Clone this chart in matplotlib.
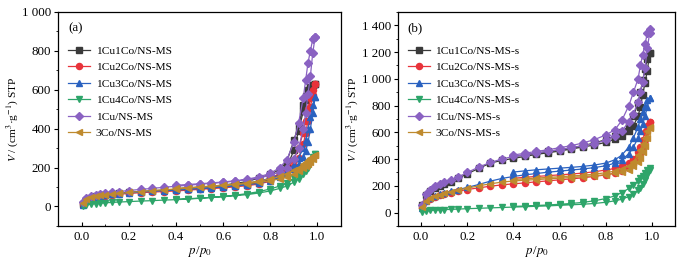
import matplotlib
matplotlib.use("Agg")
import matplotlib.pyplot as plt
from matplotlib.ticker import MultipleLocator

plt.rcParams['font.family'] = ['Liberation Serif', 'DejaVu Serif']
plt.rcParams['mathtext.fontset'] = 'stix'

# Relative pressures (adsorption then desorption)
P_ADS = [0.005, 0.02, 0.04, 0.06, 0.08, 0.10, 0.13, 0.16, 0.20, 0.25, 0.30, 0.35, 0.40, 0.45,
         0.50, 0.55, 0.60, 0.65, 0.70, 0.75, 0.80, 0.84, 0.87, 0.90, 0.92, 0.94, 0.95, 0.96,
         0.97, 0.98, 0.99]
P_DES = [0.99, 0.98, 0.97, 0.96, 0.95, 0.94, 0.92, 0.90, 0.87, 0.84, 0.80, 0.75, 0.70, 0.65,
         0.60, 0.55, 0.50, 0.45, 0.40]

labels_a = ["1Cu1Co/NS-MS", "1Cu2Co/NS-MS", "1Cu3Co/NS-MS", "1Cu4Co/NS-MS", "1Cu/NS-MS", "3Co/NS-MS"]
labels_b = ["1Cu1Co/NS-MS-s", "1Cu2Co/NS-MS-s", "1Cu3Co/NS-MS-s", "1Cu4Co/NS-MS-s", "1Cu/NS-MS-s", "3Co/NS-MS-s"]

# Panel (a) adsorbed volume
a_1cu1co_ads = [15, 35, 45, 52, 57, 61, 65, 69, 73, 77, 81, 84, 87, 90, 94, 98, 102, 107, 113, 122, 140, 170, 200, 290, 390, 490, 545, 585, 610, 622, 630]
a_1cu1co_des = [630, 624, 615, 600, 570, 520, 420, 340, 230, 190, 165, 145, 128, 118, 110, 104, 99, 95, 91]
a_1cu2co_ads = [12, 30, 40, 47, 52, 56, 60, 63, 67, 71, 74, 77, 80, 84, 88, 92, 96, 101, 107, 115, 130, 150, 175, 210, 250, 320, 380, 440, 510, 575, 628]
a_1cu2co_des = [628, 600, 560, 500, 440, 380, 300, 240, 190, 165, 145, 128, 116, 108, 101, 96, 92, 88, 85]
a_1cu3co_ads = [10, 32, 42, 49, 54, 58, 62, 66, 70, 74, 78, 81, 84, 88, 92, 96, 100, 105, 111, 119, 133, 150, 170, 195, 220, 255, 285, 330, 400, 480, 565]
a_1cu3co_des = [565, 520, 460, 400, 340, 300, 250, 215, 180, 160, 145, 130, 118, 110, 104, 99, 95, 91, 88]
a_1cu4co_ads = [3, 8, 12, 15, 17, 19, 21, 23, 25, 28, 30, 33, 35, 38, 42, 46, 50, 55, 61, 69, 80, 93, 105, 125, 143, 165, 180, 198, 220, 245, 270]
a_1cu4co_des = [270, 255, 235, 215, 200, 185, 165, 145, 120, 105, 90, 76, 66, 58, 52, 47, 43, 40, 37]
a_1cu_ads = [25, 45, 52, 58, 63, 67, 72, 77, 82, 88, 93, 99, 104, 109, 114, 119, 124, 130, 137, 146, 160, 178, 200, 245, 300, 400, 480, 580, 670, 790, 870]
a_1cu_des = [870, 860, 800, 740, 650, 560, 430, 330, 240, 200, 170, 152, 140, 132, 126, 121, 117, 113, 109]
a_3co_ads = [20, 40, 48, 53, 57, 60, 64, 67, 72, 77, 82, 86, 90, 94, 99, 103, 108, 113, 118, 124, 132, 142, 152, 168, 182, 198, 207, 217, 230, 245, 265]
a_3co_des = [265, 258, 248, 238, 228, 218, 200, 185, 168, 155, 142, 130, 122, 115, 110, 105, 101, 97, 93]

# Panel (b) adsorbed volume
b_1cu1co_ads = [60, 130, 160, 180, 195, 210, 230, 255, 290, 330, 370, 390, 405, 420, 435, 447, 460, 475, 490, 505, 525, 550, 575, 610, 650, 720, 790, 880, 970, 1060, 1190]
b_1cu1co_des = [1190, 1150, 1070, 990, 900, 820, 720, 650, 600, 570, 545, 520, 500, 485, 470, 457, 445, 432, 418]
b_1cu2co_ads = [35, 85, 105, 118, 130, 140, 150, 160, 172, 185, 197, 207, 215, 222, 230, 237, 245, 252, 260, 270, 282, 295, 310, 335, 365, 410, 440, 480, 540, 610, 680]
b_1cu2co_des = [680, 650, 600, 540, 490, 450, 400, 370, 345, 330, 318, 305, 295, 288, 282, 276, 270, 264, 256]
b_1cu3co_ads = [35, 90, 110, 125, 137, 148, 160, 172, 188, 210, 235, 255, 270, 282, 292, 302, 310, 318, 326, 336, 350, 370, 395, 440, 490, 560, 610, 660, 720, 790, 855]
b_1cu3co_des = [855, 840, 800, 750, 700, 640, 560, 490, 430, 395, 370, 355, 345, 338, 332, 326, 320, 312, 303]
b_1cu4co_ads = [5, 12, 16, 18, 20, 22, 24, 26, 29, 32, 35, 38, 41, 44, 47, 50, 54, 58, 62, 68, 77, 88, 100, 120, 140, 165, 185, 210, 240, 280, 320]
b_1cu4co_des = [330, 315, 295, 275, 255, 235, 205, 180, 150, 125, 105, 88, 76, 68, 62, 57, 53, 49, 46]
b_1cu_ads = [55, 140, 170, 195, 210, 225, 245, 265, 300, 340, 375, 400, 420, 432, 445, 458, 470, 485, 500, 515, 540, 570, 610, 680, 740, 830, 900, 980, 1080, 1230, 1340]
b_1cu_des = [1375, 1340, 1260, 1180, 1100, 1000, 900, 800, 690, 620, 580, 545, 520, 500, 485, 470, 457, 444, 430]
b_3co_ads = [40, 90, 110, 125, 135, 145, 157, 168, 182, 200, 215, 228, 236, 242, 247, 252, 257, 262, 268, 275, 283, 293, 305, 322, 345, 380, 410, 450, 500, 560, 635]
b_3co_des = [640, 610, 560, 510, 470, 430, 380, 350, 325, 310, 298, 287, 279, 273, 268, 263, 258, 253, 247]

colors = ['#3a3a3a', '#e8333a', '#2a62c0', '#2ea56a', '#8a62c2', '#bf8a2e']
markers = ['s', 'o', '^', 'v', 'D', '<']

series_a = [(a_1cu1co_ads, a_1cu1co_des), (a_1cu2co_ads, a_1cu2co_des), (a_1cu3co_ads, a_1cu3co_des),
            (a_1cu4co_ads, a_1cu4co_des), (a_1cu_ads, a_1cu_des), (a_3co_ads, a_3co_des)]
series_b = [(b_1cu1co_ads, b_1cu1co_des), (b_1cu2co_ads, b_1cu2co_des), (b_1cu3co_ads, b_1cu3co_des),
            (b_1cu4co_ads, b_1cu4co_des), (b_1cu_ads, b_1cu_des), (b_3co_ads, b_3co_des)]

yticks_a = [0, 200, 400, 600, 800, 1000]
yticklabels_a = ["0", "200", "400", "600", "800", "1 000"]
yticks_b = [0, 200, 400, 600, 800, 1000, 1200, 1400]
yticklabels_b = ["0", "200", "400", "600", "800", "1 000", "1 200", "1 400"]
xticks = [0.0, 0.2, 0.4, 0.6, 0.8, 1.0]
xticklabels = ["0.0", "0.2", "0.4", "0.6", "0.8", "1.0"]

fig = plt.figure(figsize=(6.89, 2.6), dpi=100)
ax_a = fig.add_axes([0.0842, 0.131, 0.4108, 0.823])
ax_b = fig.add_axes([0.5776, 0.131, 0.4021, 0.823])

def draw(ax, series, labels, yticks, yticklabels, ymax, tag):
    for (ads, des), lab, c, m in zip(series, labels, colors, markers):
        ax.plot(P_ADS + P_DES, ads + des, color=c, marker=m, markersize=4.4,
                markeredgecolor=c, linewidth=0.9, label=lab)
    ax.set_xlim(-0.1, 1.1)
    ax.set_ylim(-100, ymax)
    ax.set_xticks(xticks)
    ax.set_xticklabels(xticklabels)
    ax.set_yticks(yticks)
    ax.set_yticklabels(yticklabels)
    ax.xaxis.set_minor_locator(MultipleLocator(0.1))
    ax.yaxis.set_minor_locator(MultipleLocator(100))
    ax.tick_params(axis='x', which='both', direction='in', labelsize=9.3)
    ax.tick_params(axis='x', which='major', length=3)
    ax.tick_params(axis='x', which='minor', length=1.5)
    ax.tick_params(axis='y', which='both', direction='out', labelsize=9.3)
    ax.tick_params(axis='y', which='major', length=3, pad=2)
    ax.tick_params(axis='y', which='minor', length=1.5)
    for s in ax.spines.values():
        s.set_linewidth(0.9)
    ax.set_xlabel(r"$p$/$p_0$", fontsize=9.3, labelpad=1)
    ax.set_ylabel(r"$V$ / (cm$^3$·g$^{-1}$) STP", fontsize=8.2, labelpad=1)
    ax.text(0.035, 0.925, tag, transform=ax.transAxes, fontsize=9.3, va='center', ha='left')
    ax.legend(loc='upper left', bbox_to_anchor=(0.01, 0.875), frameon=False, fontsize=8.2,
              handlelength=2.0, handletextpad=0.45, labelspacing=0.58, borderaxespad=0.2)

draw(ax_a, series_a, labels_a, yticks_a, yticklabels_a, 1000, "(a)")
draw(ax_b, series_b, labels_b, yticks_b, yticklabels_b, 1500, "(b)")

fig.savefig("out.png", dpi=100)
